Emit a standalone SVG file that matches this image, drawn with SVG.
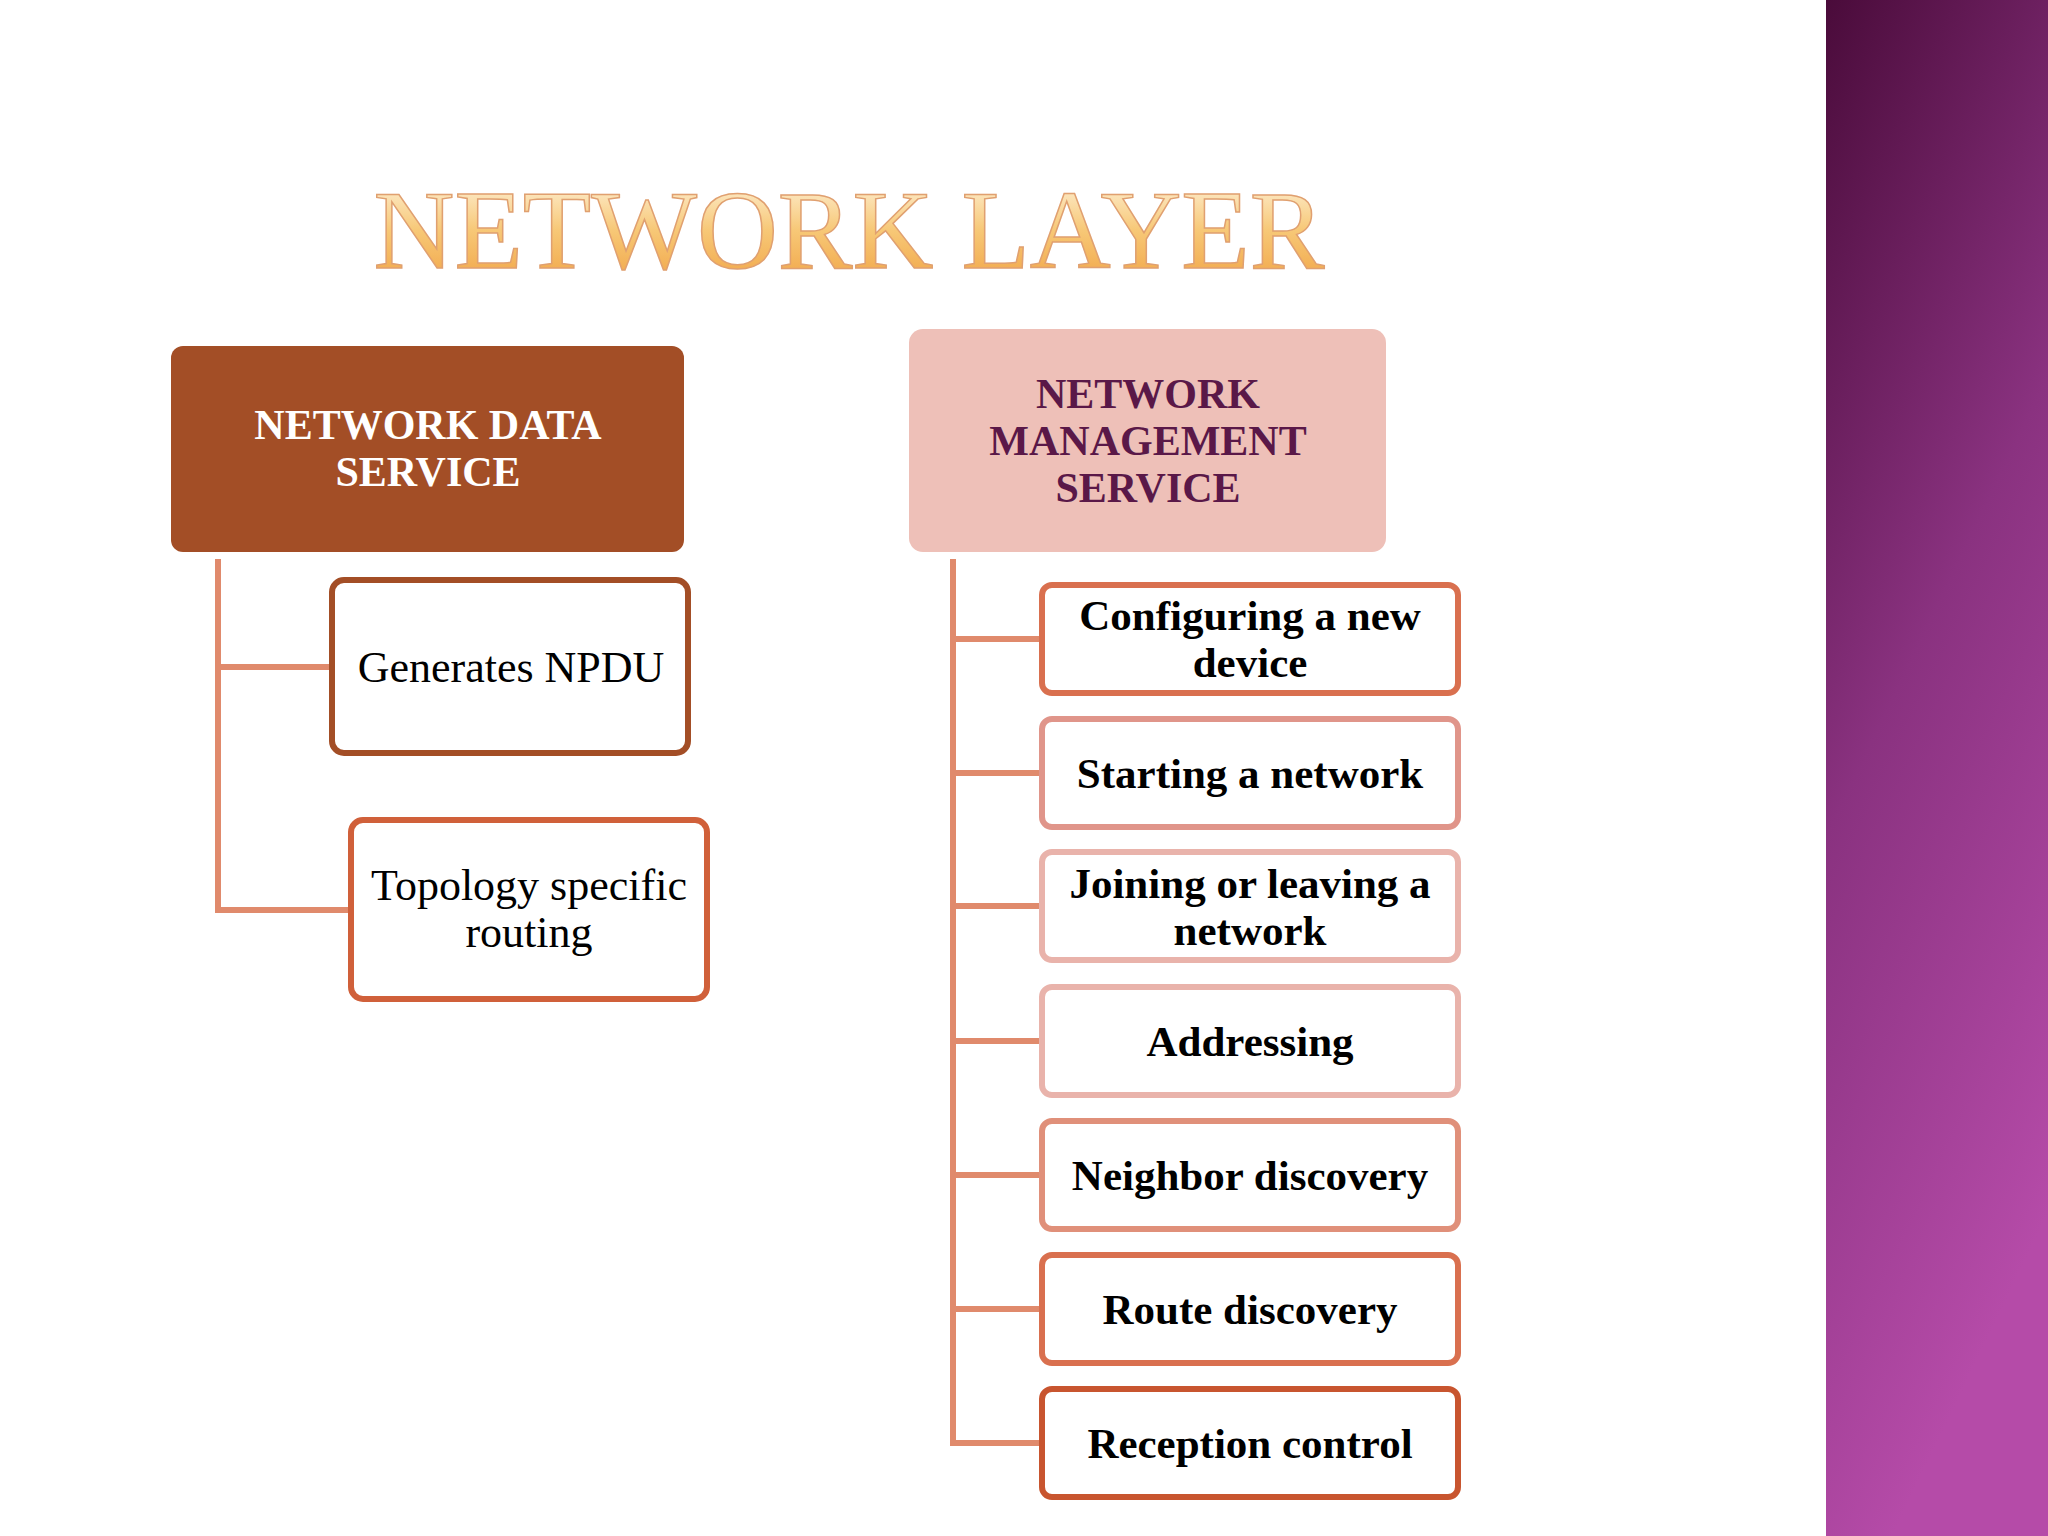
<svg xmlns="http://www.w3.org/2000/svg" width="2048" height="1536" viewBox="0 0 2048 1536">
<defs>
<linearGradient id="band" x1="0" y1="0" x2="0.3" y2="1"><stop offset="0" stop-color="#4A0B3A"/><stop offset="0.5" stop-color="#8A3280"/><stop offset="1" stop-color="#B54BA8"/></linearGradient>
<linearGradient id="title" x1="0" y1="0" x2="0" y2="1"><stop offset="0" stop-color="#FFF8E8"/><stop offset="0.5" stop-color="#F7C877"/><stop offset="1" stop-color="#F0A040"/></linearGradient>
<style>
.serif{font-family:"Liberation Serif","Times New Roman",serif}
.item{fill:#fff;stroke-width:6}
.it{font-family:"Liberation Serif",serif;font-weight:bold;font-size:43px;fill:#000;text-anchor:middle}
.conn{stroke:#E08A6C;stroke-width:6;fill:none}
</style>
</defs>
<rect width="2048" height="1536" fill="#fff"/>
<rect x="1826" y="0" width="222" height="1536" fill="url(#band)"/>
<text x="849" y="268" class="serif" font-size="112" text-anchor="middle" fill="url(#title)" stroke="#E0A070" stroke-width="1.5">NETWORK LAYER</text>
<g id="connectors">
<path class="conn" d="M218 559V910H350M218 667H330"/>
<path class="conn" d="M953 559V1443H1042M953 639H1042M953 773H1042M953 906H1042M953 1041H1042M953 1175H1042M953 1309H1042"/>
</g>
<g id="nds"><rect x="171" y="346" width="513" height="206" rx="12" fill="#A34E26"/>
<text class="serif" font-weight="bold" font-size="42" fill="#fff" text-anchor="middle"><tspan x="428" y="439">NETWORK DATA</tspan><tspan x="428" y="486">SERVICE</tspan></text></g>
<g id="nms"><rect x="909" y="329" width="477" height="223" rx="14" fill="#EEC0B8"/>
<text class="serif" font-weight="bold" font-size="42" fill="#5A1848" text-anchor="middle"><tspan x="1148" y="408">NETWORK</tspan><tspan x="1148" y="455">MANAGEMENT</tspan><tspan x="1148" y="502">SERVICE</tspan></text></g>
<g id="gen"><rect x="332" y="580" width="356" height="173" rx="12" class="item" stroke="#A34E26"/>
<text x="511" y="682" class="serif" font-size="44" text-anchor="middle">Generates NPDU</text></g>
<g id="topo"><rect x="351" y="820" width="356" height="179" rx="12" class="item" stroke="#D0603A"/>
<text class="serif" font-size="44" text-anchor="middle"><tspan x="529" y="900">Topology specific</tspan><tspan x="529" y="947">routing</tspan></text></g>
<g id="b1"><rect x="1042" y="585" width="416" height="108" rx="10" class="item" stroke="#D9704F"/><text class="it"><tspan x="1250" y="630">Configuring a new</tspan><tspan x="1250" y="677">device</tspan></text></g>
<g id="b2"><rect x="1042" y="719" width="416" height="108" rx="10" class="item" stroke="#E0958A"/><text class="it" x="1250" y="788">Starting a network</text></g>
<g id="b3"><rect x="1042" y="852" width="416" height="108" rx="10" class="item" stroke="#E9B3AB"/><text class="it"><tspan x="1250" y="898">Joining or leaving a</tspan><tspan x="1250" y="945">network</tspan></text></g>
<g id="b4"><rect x="1042" y="987" width="416" height="108" rx="10" class="item" stroke="#E9B3AB"/><text class="it" x="1250" y="1056">Addressing</text></g>
<g id="b5"><rect x="1042" y="1121" width="416" height="108" rx="10" class="item" stroke="#E0907A"/><text class="it" x="1250" y="1190">Neighbor discovery</text></g>
<g id="b6"><rect x="1042" y="1255" width="416" height="108" rx="10" class="item" stroke="#D9704F"/><text class="it" x="1250" y="1324">Route discovery</text></g>
<g id="b7"><rect x="1042" y="1389" width="416" height="108" rx="10" class="item" stroke="#C8552F"/><text class="it" x="1250" y="1458">Reception control</text></g>
</svg>
